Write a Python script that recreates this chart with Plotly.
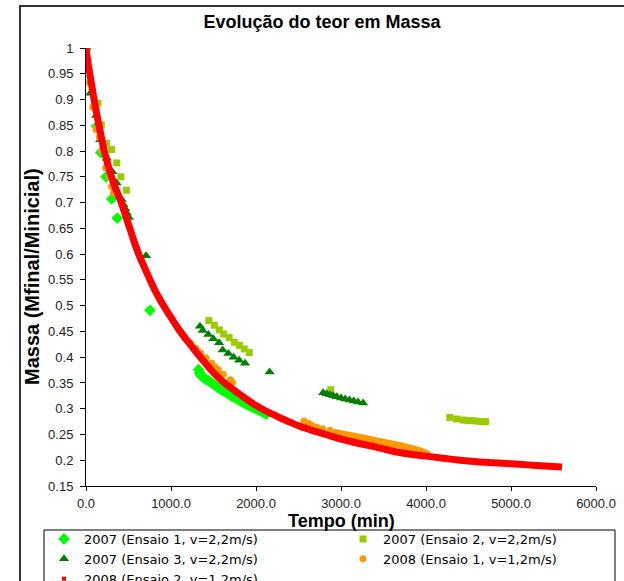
import plotly.graph_objects as go

# ---- data ----
# 2007 (Ensaio 1, v=2,2m/s)  - bright green diamonds
e1_t = [0, 126, 173, 235, 302, 368, 753,
        1325, 1335, 1345, 1360, 1385, 1410, 1435, 1460, 1485, 1510, 1535, 1560,
        1585, 1610, 1635, 1660, 1685, 1710, 1735, 1760, 1785, 1810, 1835, 1860,
        1885, 1910, 1935, 1960, 1985, 2010, 2035, 2060, 2085, 2110, 2125]
e1_v = [1.0, 0.848, 0.797, 0.750, 0.707, 0.670, 0.491,
        0.376, 0.370, 0.366, 0.363, 0.360, 0.357, 0.355, 0.352, 0.349, 0.346, 0.343, 0.340,
        0.338, 0.335, 0.333, 0.330, 0.328, 0.325, 0.323, 0.321, 0.318, 0.316, 0.314, 0.311,
        0.309, 0.307, 0.305, 0.303, 0.301, 0.299, 0.297, 0.295, 0.293, 0.291, 0.290]

# 2007 (Ensaio 2, v=2,2m/s)  - yellow-green squares
e2_t = [0, 140, 180, 240, 300, 362, 410, 475,
        1445, 1510, 1569, 1620, 1684, 1745, 1804, 1862, 1921,
        2879,
        4280, 4360, 4440, 4490, 4540, 4600, 4650, 4700]
e2_v = [1.0, 0.893, 0.851, 0.815, 0.803, 0.777, 0.750, 0.724,
        0.471, 0.462, 0.453, 0.445, 0.438, 0.429, 0.423, 0.416, 0.409,
        0.337,
        0.283, 0.280, 0.278, 0.277, 0.277, 0.276, 0.275, 0.275]

# 2007 (Ensaio 3, v=2,2m/s)  - dark green triangles
e3_t = [0, 50, 120, 168, 245, 310, 360, 420, 440, 460, 480, 505, 706,
        1341, 1373, 1439, 1498, 1565, 1608, 1675, 1737, 1802, 1871,
        2160,
        2790, 2830, 2870, 2910, 2950, 3000, 3050, 3100, 3150, 3200, 3260]
e3_v = [1.0, 0.912, 0.869, 0.822, 0.786, 0.760, 0.738, 0.706, 0.696, 0.688, 0.680, 0.671, 0.597,
        0.460, 0.452, 0.444, 0.436, 0.428, 0.414, 0.407, 0.400, 0.394, 0.388,
        0.371,
        0.331, 0.329, 0.327, 0.325, 0.323, 0.321, 0.319, 0.317, 0.315, 0.313, 0.311]

# 2008 (Ensaio 1, v=1,2m/s)  - orange circles
o1_t = [0, 40, 80, 118, 157, 184, 230, 274, 300, 321,
        1090, 1160, 1231, 1295, 1349, 1412, 1478, 1520, 1557, 1616, 1698, 1724,
        2565, 2616, 2655, 2714, 2784, 2871,
        2930, 2960, 2990, 3020, 3050, 3080, 3110, 3140, 3170, 3200, 3230, 3260,
        3290, 3320, 3350, 3380, 3410, 3440, 3470, 3500, 3530, 3560, 3590, 3620,
        3650, 3680, 3710, 3740, 3770, 3800, 3830, 3860, 3890, 3920, 3950, 3980, 4010]
o1_v = [1.0, 0.932, 0.885, 0.842, 0.827, 0.801, 0.767, 0.750, 0.731, 0.719,
        0.454, 0.437, 0.427, 0.417, 0.408, 0.399, 0.388, 0.381, 0.375, 0.367, 0.356, 0.351,
        0.276, 0.272, 0.268, 0.264, 0.261, 0.258,
        0.254, 0.253, 0.252, 0.251, 0.250, 0.249, 0.248, 0.247, 0.246, 0.245, 0.244, 0.243,
        0.242, 0.241, 0.240, 0.239, 0.238, 0.237, 0.236, 0.235, 0.234, 0.233, 0.232, 0.231,
        0.230, 0.229, 0.228, 0.226, 0.225, 0.224, 0.223, 0.222, 0.220, 0.219, 0.217, 0.215, 0.213]

# 2008 (Ensaio 2, v=1,2m/s)  - red (dense series)
red_t = [0, 20, 45, 70, 95, 123, 152, 183, 215, 255, 300, 355, 415, 465, 515, 565,
         620, 680, 745, 810, 880, 950, 1020, 1100, 1200, 1300, 1400, 1500, 1600,
         1700, 1800, 1900, 2000, 2100, 2200, 2300, 2400, 2500, 2600, 2700, 2800,
         2900, 3000, 3200, 3400, 3600, 3800, 4000, 4200, 4400, 4600, 4800, 5000,
         5200, 5400, 5600]
red_v = [1.0, 0.975, 0.95, 0.925, 0.9, 0.875, 0.85, 0.825, 0.8, 0.775, 0.75, 0.725,
         0.7, 0.675, 0.65, 0.625, 0.6, 0.577, 0.553, 0.530, 0.509, 0.490, 0.472, 0.452,
         0.430, 0.409, 0.389, 0.370, 0.354, 0.341, 0.329, 0.317, 0.306, 0.297, 0.289,
         0.281, 0.274, 0.267, 0.261, 0.256, 0.251, 0.246, 0.241, 0.233, 0.226, 0.218,
         0.212, 0.208, 0.204, 0.200, 0.197, 0.195, 0.193, 0.191, 0.189, 0.187]

names = ["2007 (Ensaio 1, v=2,2m/s)", "2007 (Ensaio 2, v=2,2m/s)",
         "2007 (Ensaio 3, v=2,2m/s)", "2008 (Ensaio 1, v=1,2m/s)",
         "2008 (Ensaio 2, v=1,2m/s)"]

FONT = "Liberation Sans, Arial, sans-serif"
LEGFONT = "DejaVu Sans, sans-serif"
COL1_W, COL2_W = 254, 226

fig = go.Figure()
fig.add_trace(go.Scatter(x=e1_t, y=e1_v, mode="markers", name=names[0], legendwidth=COL1_W,
                         marker=dict(symbol="diamond", size=9, color="#00FF00")))
fig.add_trace(go.Scatter(x=e2_t, y=e2_v, mode="markers", name=names[1], legendwidth=COL2_W,
                         marker=dict(symbol="square", size=7, color="#99CC00")))
fig.add_trace(go.Scatter(x=e3_t, y=e3_v, mode="markers", name=names[2], legendwidth=COL1_W,
                         marker=dict(symbol="triangle-up", size=9, color="#008000")))
fig.add_trace(go.Scatter(x=o1_t, y=o1_v, mode="markers", name=names[3], legendwidth=COL2_W,
                         marker=dict(symbol="circle", size=7, color="#FF9900")))
# red series drawn as a thick band; legend entry shows its small marker
fig.add_trace(go.Scatter(x=red_t, y=red_v, mode="lines", name=names[4], showlegend=False,
                         line=dict(color="#FF0000", width=7, shape="spline", smoothing=1.0),
                         legendgroup="red"))
fig.add_trace(go.Scatter(x=[None], y=[None], mode="markers", name=names[4],
                         legendgroup="red", legendwidth=COL1_W,
                         marker=dict(symbol="square", size=4, color="#FF0000")))

L, R, T, B = 86, 28, 48, 95
W, H = 624, 581
pw, ph = W - L - R, H - T - B


def px_x(x):
    return (x - L) / pw


def px_y(y):
    return (T + ph - y) / ph


fig.update_layout(
    width=W, height=H,
    margin=dict(l=L, r=R, t=T, b=B, autoexpand=False),
    paper_bgcolor="white", plot_bgcolor="white",
    font=dict(family=FONT, color="#000000", size=13),
    title=dict(text="<b>Evolução do teor em Massa</b>", font=dict(size=18, family=FONT),
               x=322 / W, xref="container", xanchor="center",
               y=1 - 22 / H, yref="container", yanchor="middle"),
    xaxis=dict(range=[0, 6000], dtick=1000, tickformat=".1f", showgrid=False,
               zeroline=False, showline=True, linecolor="#000000", linewidth=1,
               ticks="outside", ticklen=4, tickcolor="#000000", ticklabelstandoff=1,
               tickfont=dict(size=13, color="#222222")),
    yaxis=dict(range=[0.15, 1.0], dtick=0.05, tick0=0, showgrid=False,
               zeroline=False, showline=True, linecolor="#000000", linewidth=1,
               ticks="outside", ticklen=5, tickcolor="#000000", ticklabelstandoff=4,
               tickfont=dict(size=13, color="#222222")),
    legend=dict(orientation="h", x=px_x(44), xanchor="left",
                y=px_y(524), yanchor="top",
                borderwidth=0, bgcolor="rgba(0,0,0,0)",
                font=dict(size=13, family=LEGFONT),
                itemsizing="trace", traceorder="normal"),
    showlegend=True,
)

# axis titles
fig.add_annotation(text="<b>Tempo (min)</b>", xref="paper", yref="paper",
                   x=px_x(341), y=px_y(521), xanchor="center", yanchor="middle",
                   showarrow=False, font=dict(size=18, family=FONT, color="#000000"))
fig.add_annotation(text="<b>Massa (Mfinal/Minicial)</b>", textangle=-90,
                   xref="paper", yref="paper",
                   x=px_x(32), y=px_y(277),
                   xanchor="center", yanchor="middle", showarrow=False,
                   font=dict(size=20, family=FONT, color="#000000"))

# outer chart frame
fig.add_shape(type="rect", xref="paper", yref="paper",
              x0=px_x(20), x1=1.2, y0=-0.4, y1=px_y(6),
              line=dict(color="#333333", width=2), fillcolor="rgba(0,0,0,0)", layer="below")
# legend frame
fig.add_shape(type="rect", xref="paper", yref="paper",
              x0=px_x(44), x1=px_x(615), y0=px_y(600), y1=px_y(530),
              line=dict(color="#000000", width=1), fillcolor="rgba(0,0,0,0)", layer="below")

# the page itself should not add an offset around the figure
fig.write_html("out.html", config={"displayModeBar": False},
               post_script="document.body.style.margin='0px';")
